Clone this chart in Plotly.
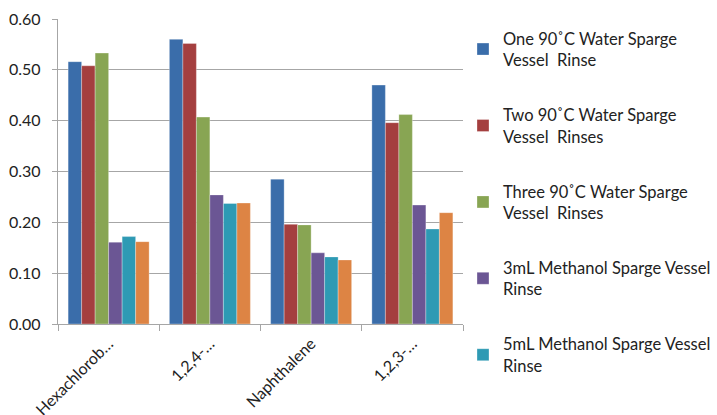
import plotly.graph_objects as go

categories = ["Hexachlorob…", "1,2,4-…", "Naphthalene", "1,2,3-…"]
series_names = [
    "One 90˚C Water Sparge<br>Vessel  Rinse",
    "Two 90˚C Water Sparge<br>Vessel  Rinses",
    "Three 90˚C Water Sparge<br>Vessel  Rinses",
    "3mL Methanol Sparge Vessel<br>Rinse",
    "5mL Methanol Sparge Vessel<br>Rinse",
    "10mL Methanol Sparge Vessel<br>Rinse",
]
one_water = [0.516, 0.560, 0.285, 0.470]
two_water = [0.508, 0.552, 0.196, 0.396]
three_water = [0.533, 0.407, 0.195, 0.412]
meoh_3ml = [0.161, 0.254, 0.140, 0.234]
meoh_5ml = [0.172, 0.237, 0.132, 0.187]
meoh_6th = [0.162, 0.238, 0.126, 0.219]
y_ticks = [0.0, 0.1, 0.2, 0.3, 0.4, 0.5, 0.6]

values = [one_water, two_water, three_water, meoh_3ml, meoh_5ml, meoh_6th]
colors = ["#3A6DAA", "#A43F3F", "#88A553", "#6B5694", "#2E9AB4", "#DD8444"]
show = [True, True, True, True, True, False]

fig = go.Figure()
for i, (name, vals, col) in enumerate(zip(series_names, values, colors)):
    fig.add_trace(go.Bar(
        x=categories, y=vals, name=name, marker_color=col,
        marker_line=dict(color="rgba(255,255,255,0.5)", width=0.6),
        legendgroup=f"g{i}", showlegend=show[i],
    ))

font_family = "Lato, 'Open Sans', sans-serif"
fig.update_layout(
    width=717, height=415,
    margin=dict(l=58, r=254, t=19, b=91, autoexpand=False),
    paper_bgcolor="white", plot_bgcolor="white",
    barmode="group", bargap=0.2, bargroupgap=0,
    font=dict(family=font_family, size=16, color="#222222"),
    legend=dict(x=1.0, y=0.993, xanchor="left", yanchor="top",
                font=dict(size=16.5, color="#222222"),
                tracegroupgap=30.5, itemwidth=30, maxheight=410,
                bgcolor="rgba(0,0,0,0)"),
    showlegend=True,
)
fig.update_yaxes(range=[0, 0.6], tickvals=y_ticks, tickformat=".2f",
                 showgrid=True, gridcolor="#A6A6A6", gridwidth=1.3,
                 showline=True, linecolor="#A6A6A6", linewidth=1.3,
                 ticks="outside", ticklen=5, tickcolor="#A6A6A6",
                 ticklabelstandoff=8, automargin=False,
                 zeroline=False, tickfont=dict(size=16))
fig.update_xaxes(tickangle=-45, showline=True, linecolor="#A6A6A6", linewidth=1.3,
                 ticks="outside", tickson="boundaries", ticklen=6, tickcolor="#A6A6A6",
                 ticklabelstandoff=3, automargin=False, tickfont=dict(size=16))

fig.write_html("out.html", config={"displayModeBar": False},
               post_script="document.body.style.margin='0';")
